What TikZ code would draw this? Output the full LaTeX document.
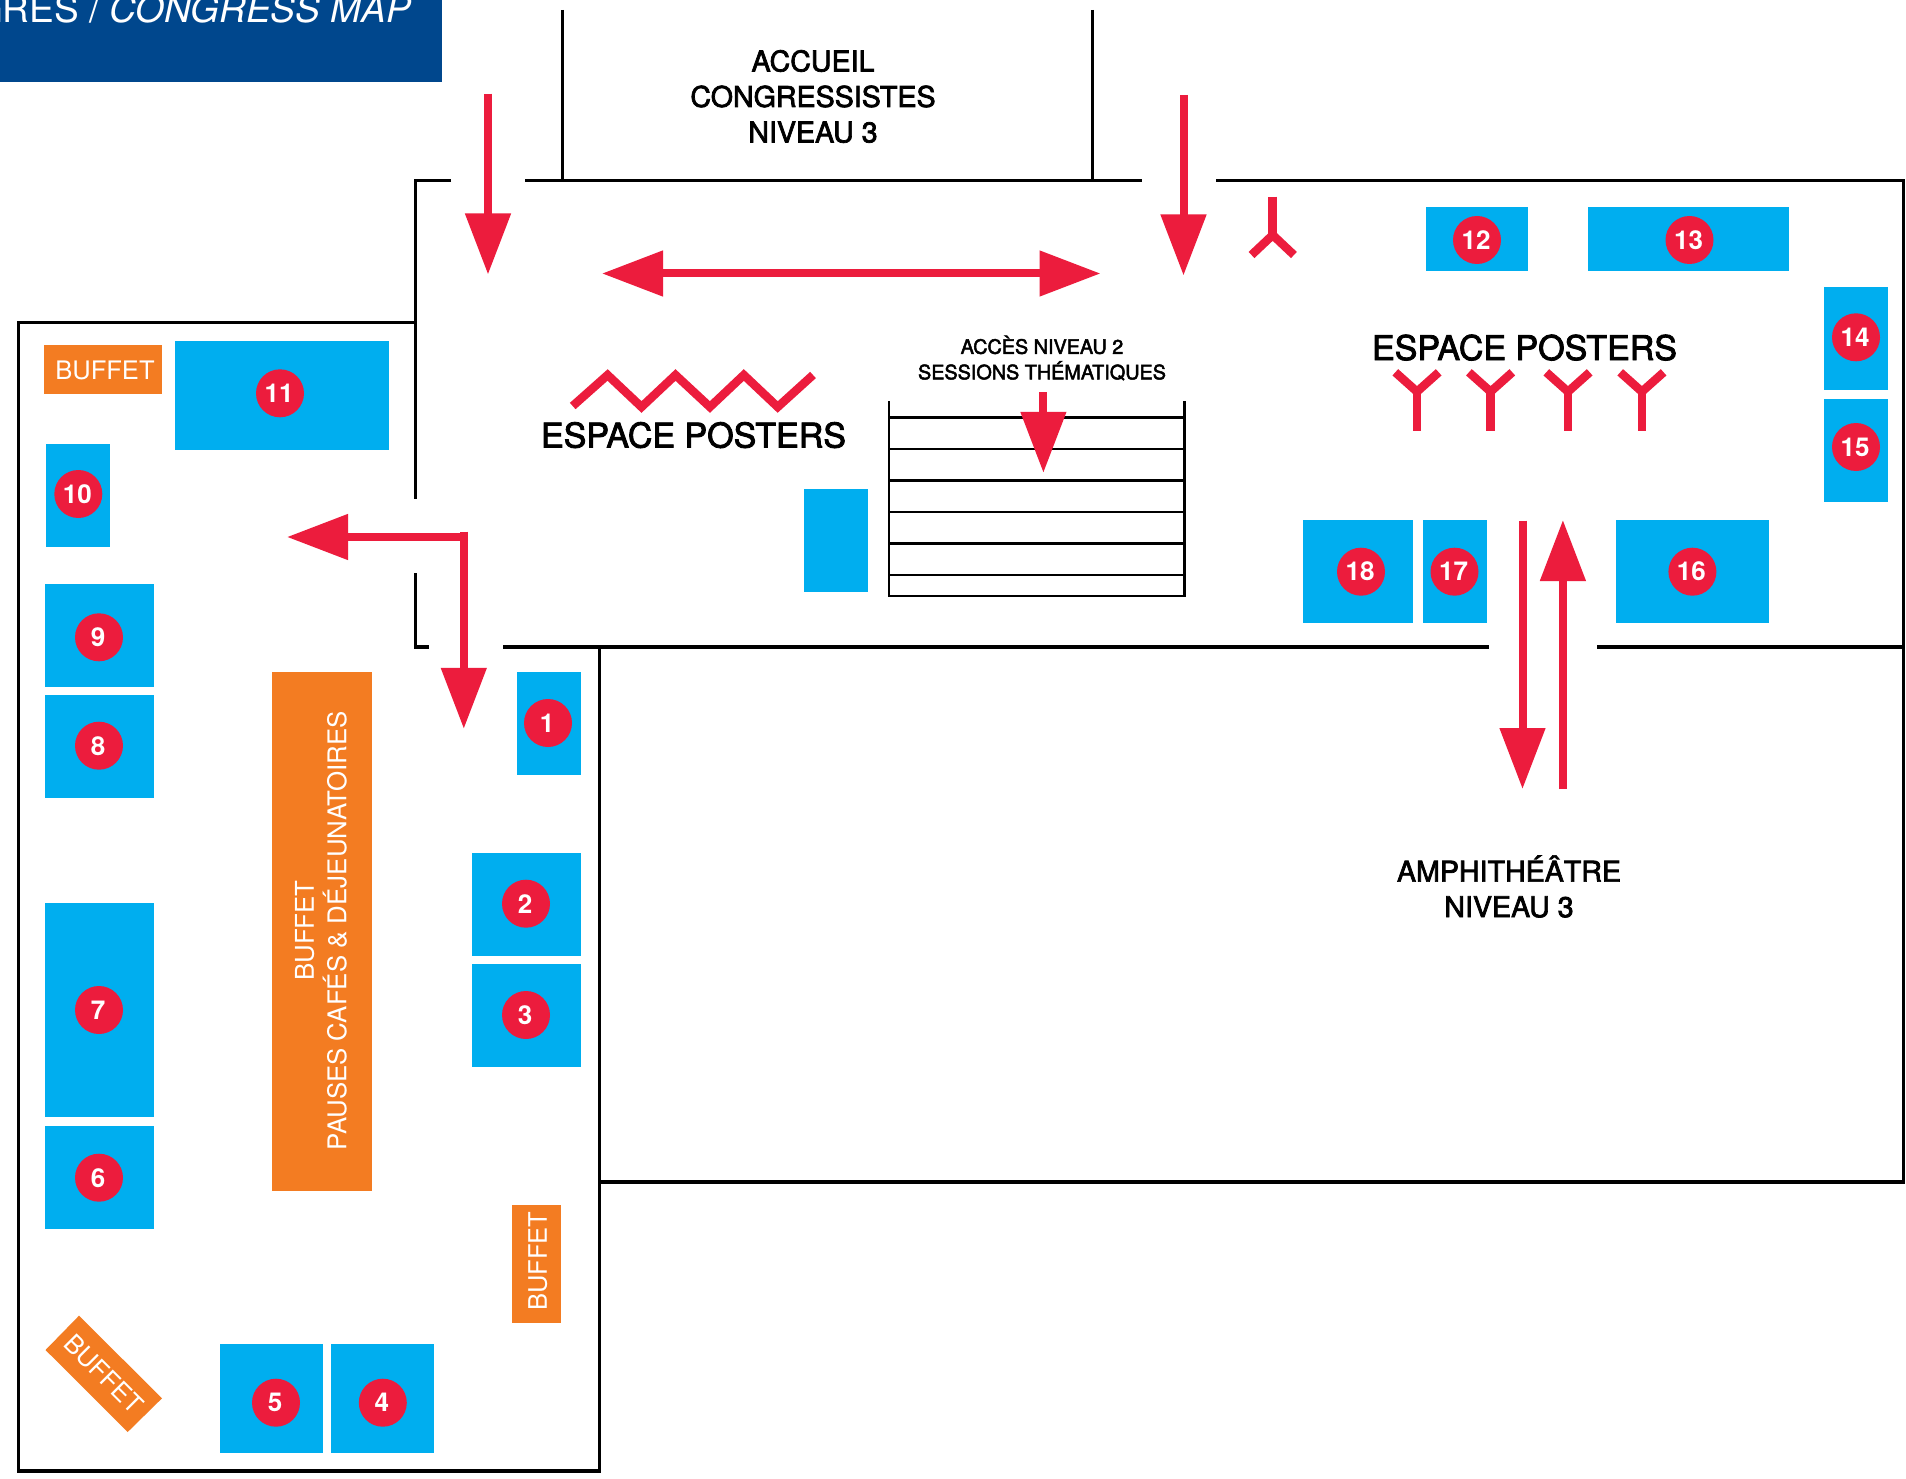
\documentclass[tikz,border=0pt]{standalone}
\usepackage{fontspec}
\setmainfont{TeX Gyre Heros}
\newfontfamily\heavyfont[FakeBold=2.5]{TeX Gyre Heros}
\usetikzlibrary{arrows.meta}
\definecolor{navyc}{HTML}{00478D}
\definecolor{bluec}{HTML}{00AEEF}
\definecolor{orangec}{HTML}{F37C22}
\definecolor{redc}{HTML}{EC1C3D}
\tikzset{
  wall/.style={black,line width=3.5pt,miter limit=10,line join=miter},
  stairline/.style={black,line width=2.8pt,line join=miter},
  redarrow/.style={redc,line width=8pt,-{Triangle[length=61pt,width=44pt]}},
  redtwo/.style={redc,line width=8pt,{Triangle[length=61pt,width=44pt]}-{Triangle[length=61pt,width=44pt]}},
  redline/.style={redc,line width=8pt},
  redfork/.style={redc,line width=8.5pt,line join=miter},
  stand/.style={fill=bluec,draw=none},
  buffetbox/.style={fill=orangec,draw=none},
  badge/.style={circle,fill=redc,text=white,minimum size=48pt,inner sep=0pt,font={\fontsize{26}{26}\selectfont\bfseries}},
  blab/.style={text=white,inner sep=0pt,align=center,font={\fontsize{25.5}{32.4}\selectfont}},
  biglab/.style={text=white,inner sep=0pt,align=center,font={\fontsize{25.85}{32.4}\selectfont}},
  mainlab/.style={text=black,inner sep=0pt,align=center,font={\heavyfont\fontsize{28.6}{35.5}\selectfont}},
  poster/.style={text=black,inner sep=0pt,font={\heavyfont\fontsize{34}{34}\selectfont}},
  small/.style={text=black,inner sep=0pt,align=center,font={\heavyfont\fontsize{19.8}{25.5}\selectfont}},
}
\newcommand{\standrect}[4]{\fill[stand] (#1,#2) rectangle (#3,#4);}
\newcommand{\numtxt}[1]{\raisebox{-1.8pt}{#1}\kern2pt}
\begin{document}
\begin{tikzpicture}[x=1pt,y=-1pt]
\useasboundingbox (0,0) rectangle (1906,1479);
\fill[white] (0,0) rectangle (1906,1479);
% header
\begin{scope}
\clip (0,0) rectangle (442,81.7);
\fill[navyc] (0,0) rectangle (442,81.7);
\node[anchor=base east,inner sep=0pt,text=white,font={\fontsize{37}{37}\selectfont}] (title) at (411,23) {GRES / \itshape CONGRESS MAP};
\end{scope}
% walls
\draw[wall] (451,180.7) -- (415.7,180.7) -- (415.7,498.7);
\draw[wall] (415.7,322.7) -- (18.5,322.7) -- (18.5,1471) -- (599.5,1471) -- (599.5,647);
\draw[wall] (415.7,573.3) -- (415.7,647) -- (429,647);
\draw[wall] (503,647) -- (1488.5,647);
\draw[wall] (1597,647) -- (1903.5,647);
\draw[wall] (525,180.7) -- (1141.5,180.7);
\draw[wall] (1216,180.7) -- (1903.5,180.7) -- (1903.5,1182) -- (599.5,1182);
\draw[wall,line width=3pt] (562,10) -- (562,180.7);
\draw[wall,line width=3pt] (1092,10) -- (1092,180.7);
% stairs
\draw[stairline] (889,401) -- (889,596) -- (1184.5,596) -- (1184.5,401);
\foreach \yy in {417.3,449,480.3,512,543.7,575}{\draw[stairline] (889,\yy) -- (1184.5,\yy);}
% stands
\standrect{175}{341}{389}{449.7}
\standrect{45.9}{444}{110}{546.7}
\standrect{45}{584}{153.8}{686.7}
\standrect{45}{695}{153.8}{797.7}
\standrect{45}{903}{153.8}{1116.7}
\standrect{45}{1126}{153.8}{1228.7}
\standrect{517}{672}{581.3}{774.7}
\standrect{472}{853}{581.3}{955.7}
\standrect{472}{964}{581.3}{1066.7}
\standrect{220}{1344}{323}{1452.7}
\standrect{331}{1344}{434}{1452.7}
\standrect{804}{489}{868}{591.7}
\standrect{1425.6}{207}{1528.4}{270.7}
\standrect{1587.5}{207}{1788.9}{270.7}
\standrect{1824}{287}{1887.8}{389.7}
\standrect{1824}{399}{1887.8}{501.7}
\standrect{1303.3}{520}{1412.5}{622.7}
\standrect{1422.7}{520}{1486.8}{622.7}
\standrect{1615.5}{520}{1768.5}{622.7}
% buffets
\fill[buffetbox] (44,345) rectangle (162,393.7);
\node[blab,anchor=base] (buf1) at (105,379.5) {BUFFET};
\fill[buffetbox] (272,672) rectangle (372,1190.7);
\node[biglab,rotate=90] (buf2) at (321,930.5) {BUFFET\\PAUSES CAFÉS \& DÉJEUNATOIRES};
\fill[buffetbox] (512.4,1205) rectangle (561,1322.7);
\node[blab,rotate=90] (buf3) at (537.7,1261) {BUFFET};
\fill[buffetbox] (79,1315.7) -- (162,1398.3) -- (127.7,1432) -- (45.5,1350) -- cycle;
\node[blab,rotate=-45] (buf4) at (103.8,1374) {BUFFET};
% badges
\node[badge] (n1) at (548,723) {\numtxt{1}};
\node[badge] (n2) at (526,903.7) {\numtxt{2}};
\node[badge] (n3) at (526,1015) {\numtxt{3}};
\node[badge] (n4) at (382.8,1402.7) {\numtxt{4}};
\node[badge] (n5) at (276,1402.7) {\numtxt{5}};
\node[badge] (n6) at (99,1177.7) {\numtxt{6}};
\node[badge] (n7) at (99,1010) {\numtxt{7}};
\node[badge] (n8) at (99,745.7) {\numtxt{8}};
\node[badge] (n9) at (99,637.3) {\numtxt{9}};
\node[badge] (n10) at (78.3,494) {\numtxt{10}};
\node[badge] (n11) at (280,393.3) {\numtxt{11}};
\node[badge] (n12) at (1477,240) {\numtxt{12}};
\node[badge] (n13) at (1689.5,240) {\numtxt{13}};
\node[badge] (n14) at (1856,337.3) {\numtxt{14}};
\node[badge] (n15) at (1856,447) {\numtxt{15}};
\node[badge] (n16) at (1692.4,571.7) {\numtxt{16}};
\node[badge] (n17) at (1454.5,571.7) {\numtxt{17}};
\node[badge] (n18) at (1361,571.7) {\numtxt{18}};
% text
\node[mainlab] (acc) at (813,96.5) {ACCUEIL\\CONGRESSISTES\\NIVEAU 3};
\node[mainlab] (amp) at (1509,886.5) {AMPHITHÉÂTRE\\NIVEAU 3};
\node[poster,anchor=base] (ep1) at (693.5,447.5) {ESPACE POSTERS};
\node[poster,anchor=base] (ep2) at (1524.5,360) {ESPACE POSTERS};
\node[small] (sess) at (1042,358) {ACCÈS NIVEAU 2\\SESSIONS THÉMATIQUES};
% arrows
\coordinate (a1s) at (488,93.7); \coordinate (a1e) at (488,274.5);
\coordinate (a2s) at (1183.5,95); \coordinate (a2e) at (1183.5,275.5);
\coordinate (a3s) at (602,273.5); \coordinate (a3e) at (1100.5,273.5);
\coordinate (a4s) at (1043.4,392.3); \coordinate (a4e) at (1043.4,472.8);
\coordinate (a5s) at (468,537); \coordinate (a5e) at (287,537);
\coordinate (a6s) at (463.8,531.7); \coordinate (a6e) at (463.8,728.8);
\coordinate (a7s) at (1522.5,520.7); \coordinate (a7e) at (1522.5,789);
\coordinate (a8s) at (1562.9,789); \coordinate (a8e) at (1562.9,520);
\draw[redarrow] (a1s) -- (a1e);
\draw[redarrow] (a2s) -- (a2e);
\draw[redtwo] (a3s) -- (a3e);
\draw[redarrow] (a4s) -- (a4e);
\draw[redarrow] (a5s) -- (a5e);
\draw[redarrow] (a6s) -- (a6e);
\draw[redarrow] (a7s) -- (a7e);
\draw[redarrow] (a8s) -- (a8e);
% zigzag
\draw[redfork] (572.7,406) -- (607.6,375) -- (641.5,407) -- (675.5,375) -- (709.9,407) -- (743.8,375) -- (777.7,407) -- (813,375);
% forks
\foreach \xx in {1417,1490.6,1568,1641.9}{
  \draw[redfork] (\xx-21.7,372.3) -- (\xx,391.7) -- (\xx+21.7,372.3);
  \draw[redline,line width=8.5pt] (\xx,392) -- (\xx,430.7);
}
\draw[redfork] (1272.7-21.2,255) -- (1272.7,235) -- (1272.7+21.2,255);
\draw[redline,line width=8.5pt] (1272.7,196.7) -- (1272.7,236);
\end{tikzpicture}
\end{document}
